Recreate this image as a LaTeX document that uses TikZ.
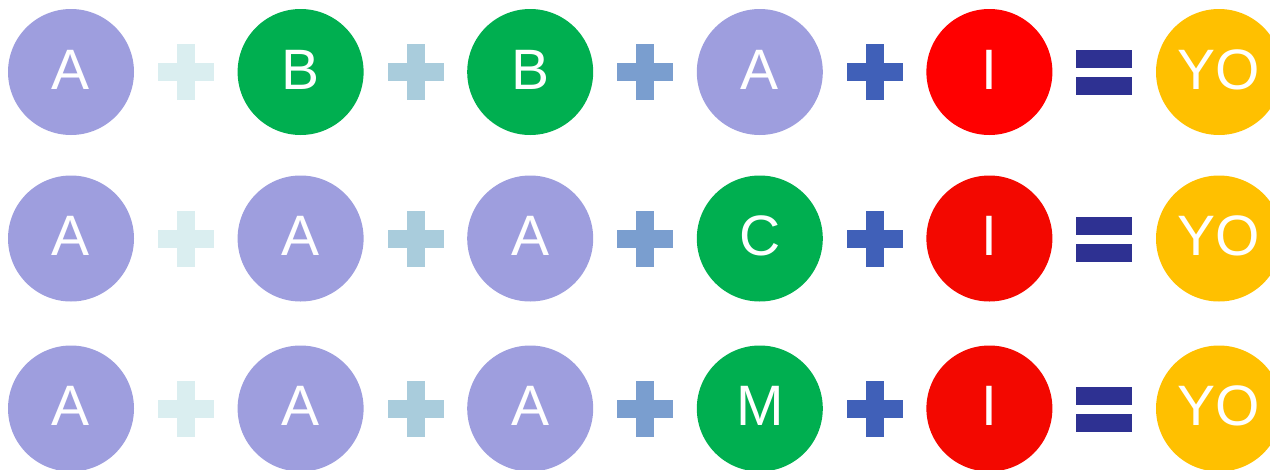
\documentclass[tikz,border=0pt]{standalone}
\usepackage{fontspec}
\setmainfont{Liberation Sans}
\usetikzlibrary{positioning}
\definecolor{lav}{HTML}{9E9EDE}
\definecolor{grn}{HTML}{00AF50}
\definecolor{redA}{HTML}{FF0000}
\definecolor{redB}{HTML}{F30800}
\definecolor{yel}{HTML}{FFC000}
\definecolor{plusA}{HTML}{DAEEF0}
\definecolor{plusB}{HTML}{A9CCDC}
\definecolor{plusC}{HTML}{7A9ECF}
\definecolor{plusD}{HTML}{4060B8}
\definecolor{eqc}{HTML}{2E3192}

\begin{document}
\begin{tikzpicture}[x=1pt,y=-1pt,
 ball/.style={circle,minimum size=126pt,inner sep=0pt,outer sep=0pt,text=white,text depth=5pt,
   font=\fontsize{57}{60}\selectfont},
 gap/.style={right=103.6pt of #1}]
\useasboundingbox (0,0) rectangle (1270,469);
\clip (0,0) rectangle (1270,469);
% row 1
\node[ball,fill=lav] (a1) at (71,72) {A};
\node[ball,fill=grn,gap=a1] (b1) {B};
\node[ball,fill=grn,gap=b1] (c1) {B};
\node[ball,fill=lav,gap=c1] (d1) {A};
\node[ball,fill=redA,gap=d1] (e1) {I};
\node[ball,fill=yel,gap=e1] (f1) {YO};
% row 2
\node[ball,fill=lav] (a2) at (71,238.5) {A};
\node[ball,fill=lav,gap=a2] (b2) {A};
\node[ball,fill=lav,gap=b2] (c2) {A};
\node[ball,fill=grn,gap=c2] (d2) {C};
\node[ball,fill=redB,gap=d2] (e2) {I};
\node[ball,fill=yel,gap=e2] (f2) {YO};
% row 3
\node[ball,fill=lav] (a3) at (71,408.5) {A};
\node[ball,fill=lav,gap=a3] (b3) {A};
\node[ball,fill=lav,gap=b3] (c3) {A};
\node[ball,fill=grn,gap=c3] (d3) {M};
\node[ball,fill=redB,gap=d3] (e3) {I};
\node[ball,fill=yel,gap=e3] (f3) {YO};
% plus and equals signs
\foreach \y in {72,238.5,408.5} {
  \foreach \x/\c in {186/plusA,416/plusB,645/plusC,874.5/plusD} {
    \fill[\c] (\x-28,\y-9) rectangle ++(56,18);
    \fill[\c] (\x-9,\y-28) rectangle ++(18,56);
  }
  \fill[eqc] (1076,\y-22) rectangle ++(56,18);
  \fill[eqc] (1076,\y+5) rectangle ++(56,18);
}
\end{tikzpicture}
\end{document}
